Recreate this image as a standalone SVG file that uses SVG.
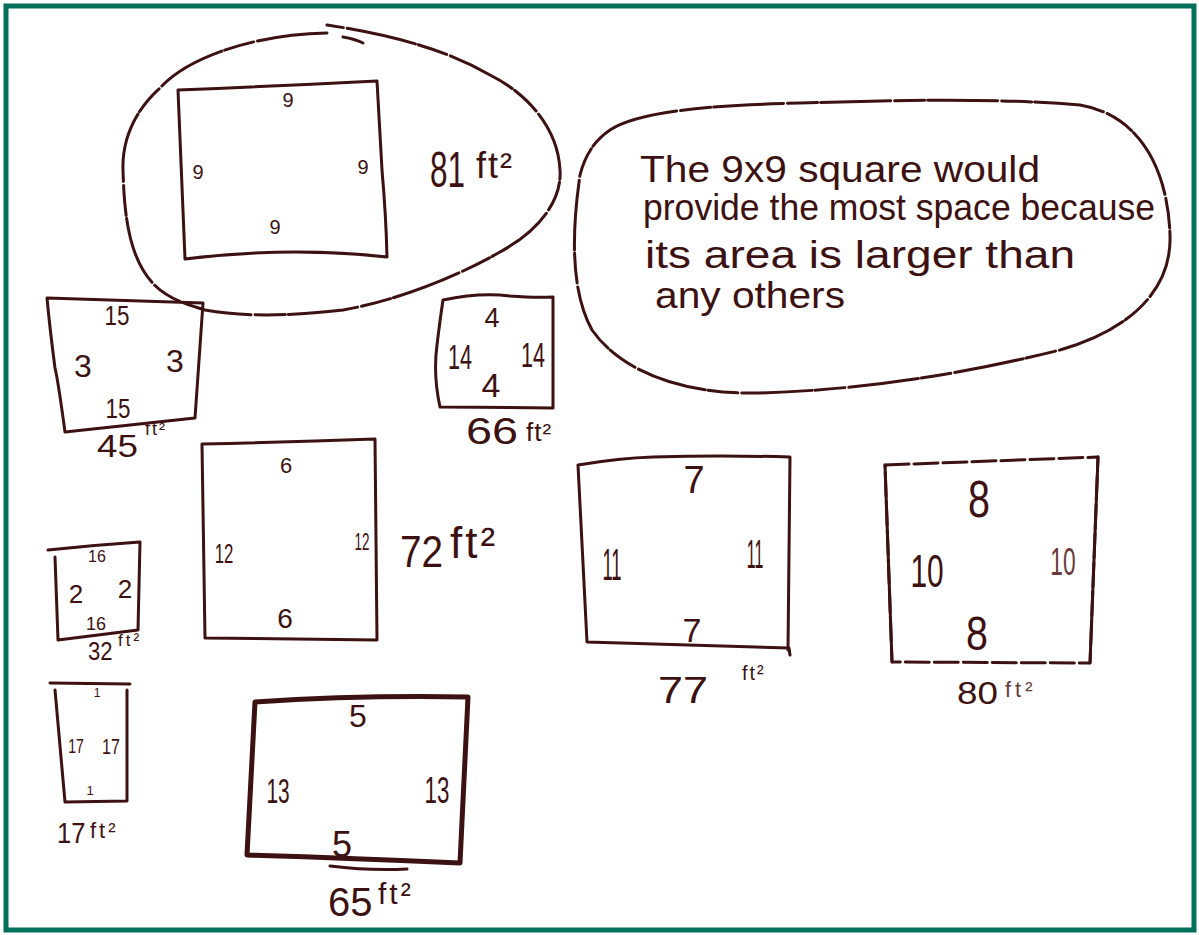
<svg xmlns="http://www.w3.org/2000/svg" width="1199" height="935" viewBox="0 0 1199 935">
<style>
.ink{fill:none;stroke:#3d1111;stroke-width:3;stroke-linecap:round;stroke-linejoin:round}
.thick{stroke-width:5}
.loop{stroke-dasharray:70 4 30 3}
.t{fill:#3d1111;font-family:"Liberation Sans",Arial,sans-serif;text-anchor:middle}
.s{text-anchor:start}
.faint{fill:#6a3a3a}
</style>
<rect x="0" y="0" width="1199" height="935" fill="#ffffff"/>
<rect x="6" y="6" width="1188" height="924" fill="none" stroke="#00705a" stroke-width="5"/>

<g id="node-81">
<path class="ink loop" d="M327,33 C260,34 190,55 160,88 C135,110 122,140 123,170 C124,210 128,245 143,270 C155,290 170,300 205,310 C250,318 300,315 343,310 C400,300 460,275 500,252 C540,230 562,200 560,170 C558,130 530,95 490,75 C450,52 400,36 327,25"/>
<path class="ink" d="M343,37 Q355,39 363,43"/>
<path class="ink" d="M178,90 Q280,86 377,81 L382,170 Q386,215 387,257 Q290,246 185,259 Z"/>
<text class="t" x="288" y="107" font-size="20">9</text>
<text class="t" x="198" y="179" font-size="20">9</text>
<text class="t" x="363" y="174" font-size="20">9</text>
<text class="t" x="275" y="234" font-size="20">9</text>
<text class="t s" transform="translate(430,187) scale(0.63,1)" font-size="50">81</text>
<text class="t s" x="476" y="178" font-size="36" letter-spacing="2">ft²</text>
</g>

<g id="node-answer">
<path class="ink loop" d="M610,130 C640,110 720,105 800,103 C900,100 1000,98 1080,105 C1140,115 1168,170 1170,235 C1172,290 1130,330 1060,350 C960,375 860,390 760,393 C680,395 620,370 592,330 C570,290 572,230 580,175 C585,155 595,140 610,130"/>
<text class="t s" x="640" y="182" font-size="36" textLength="400" lengthAdjust="spacingAndGlyphs">The 9x9 square would</text>
<text class="t s" x="643" y="220" font-size="36" textLength="512" lengthAdjust="spacingAndGlyphs">provide the most space because</text>
<text class="t s" x="645" y="268" font-size="38" textLength="430" lengthAdjust="spacingAndGlyphs">its area is larger than</text>
<text class="t s" x="655" y="308" font-size="36" textLength="190" lengthAdjust="spacingAndGlyphs">any others</text>
</g>

<g id="node-45">
<path class="ink" d="M47,298 L203,303 L195,418 L65,432 Q58,380 55,368 Q50,330 47,298 Z"/>
<text class="t" transform="translate(117,325) scale(0.8,1)" font-size="28">15</text>
<text class="t" x="83" y="377" font-size="32">3</text>
<text class="t" x="175" y="372" font-size="32">3</text>
<text class="t" transform="translate(118,418) scale(0.8,1)" font-size="28">15</text>
<text class="t s" transform="translate(97,457) scale(1.15,1)" font-size="32">45</text>
<text class="t s" x="145" y="435" font-size="18" letter-spacing="2">ft²</text>
</g>

<g id="node-66">
<path class="ink" d="M443,300 Q480,292 510,296 Q535,298 553,297 L553,408 L440,407 Q433,375 437,345 Q440,320 443,300 Z"/>
<text class="t" x="492" y="327" font-size="27">4</text>
<text class="t" transform="translate(460,369) scale(0.6,1)" font-size="36">14</text>
<text class="t" x="491" y="397" font-size="34">4</text>
<text class="t" transform="translate(533,367) scale(0.6,1)" font-size="36">14</text>
<text class="t s" transform="translate(466,444) scale(1.3,1)" font-size="36">66</text>
<text class="t s" x="526" y="441" font-size="26" letter-spacing="1">ft²</text>
</g>

<g id="node-72">
<path class="ink" d="M202,444 Q290,442 375,439 L377,640 L205,638 Z"/>
<text class="t" x="286" y="473" font-size="22">6</text>
<text class="t" transform="translate(224,563) scale(0.6,1)" font-size="28">12</text>
<text class="t" transform="translate(362,550) scale(0.56,1)" font-size="24">12</text>
<text class="t" x="285" y="628" font-size="28">6</text>
<text class="t s" transform="translate(400,567) scale(0.88,1)" font-size="44">72</text>
<text class="t s" x="450" y="558" font-size="44" letter-spacing="3">ft²</text>
</g>

<g id="node-32">
<path class="ink" d="M48,550 Q95,545 140,542 L138,630 L58,640 L55,557"/>
<text class="t" x="97" y="562" font-size="16">16</text>
<text class="t" x="76" y="603" font-size="26">2</text>
<text class="t" x="125" y="598" font-size="26">2</text>
<text class="t" x="96" y="630" font-size="18">16</text>
<text class="t s" transform="translate(88,660) scale(0.85,1)" font-size="26">32</text>
<text class="t s" x="118" y="646" font-size="17" letter-spacing="3">ft²</text>
</g>

<g id="node-17">
<path class="ink" d="M50,683 L130,684 M55,690 L65,802 L127,801 L127,690"/>
<text class="t" x="97" y="697" font-size="12">1</text>
<text class="t" transform="translate(76,753) scale(0.7,1)" font-size="20">17</text>
<text class="t" transform="translate(111,754) scale(0.73,1)" font-size="22">17</text>
<text class="t" x="90" y="795" font-size="13">1</text>
<text class="t s" transform="translate(57,843) scale(0.85,1)" font-size="30">17</text>
<text class="t s" x="90" y="838" font-size="22" letter-spacing="3">ft²</text>
</g>

<g id="node-65">
<path class="ink thick" d="M255,702 Q360,695 468,697 L460,863 Q350,858 247,855 Z"/>
<path class="ink" d="M330,866 Q370,871 407,869" stroke-width="2"/>
<text class="t" x="358" y="727" font-size="32">5</text>
<text class="t" transform="translate(278,803) scale(0.58,1)" font-size="36">13</text>
<text class="t" transform="translate(437,803) scale(0.62,1)" font-size="36">13</text>
<text class="t" x="342" y="857" font-size="36">5</text>
<text class="t s" x="328" y="916" font-size="40">65</text>
<text class="t s" x="378" y="904" font-size="30" letter-spacing="3">ft²</text>
</g>

<g id="node-77">
<path class="ink" d="M578,465 Q620,458 653,457 Q720,455 790,457 L788,650 M790,655 L789,648 L587,642 L578,465"/>
<text class="t" x="694" y="493" font-size="38">7</text>
<text class="t" transform="translate(612,580) scale(0.42,1)" font-size="44">11</text>
<text class="t" transform="translate(755,568) scale(0.4,1)" font-size="40">11</text>
<text class="t" x="692" y="642" font-size="34">7</text>
<text class="t s" transform="translate(658,703) scale(1.25,1)" font-size="36">77</text>
<text class="t s" x="742" y="680" font-size="20" letter-spacing="2">ft²</text>
</g>

<g id="node-80">
<path class="ink" d="M885,465 L1098,457 L1090,663 L892,662 Z" stroke-dasharray="24 5"/>
<path class="ink" d="M885,465 L892,662 M1098,457 L1090,663"/>
<text class="t" transform="translate(979,517) scale(0.76,1)" font-size="52">8</text>
<text class="t" transform="translate(927,587) scale(0.65,1)" font-size="46">10</text>
<text class="t faint" transform="translate(1063,575) scale(0.6,1)" font-size="38">10</text>
<text class="t" transform="translate(977,650) scale(0.82,1)" font-size="48">8</text>
<text class="t s" transform="translate(957,704) scale(1.15,1)" font-size="32">80</text>
<text class="t s faint" x="1005" y="697" font-size="22" letter-spacing="4">ft²</text>
</g>

<g id="connectors"></g>
</svg>
